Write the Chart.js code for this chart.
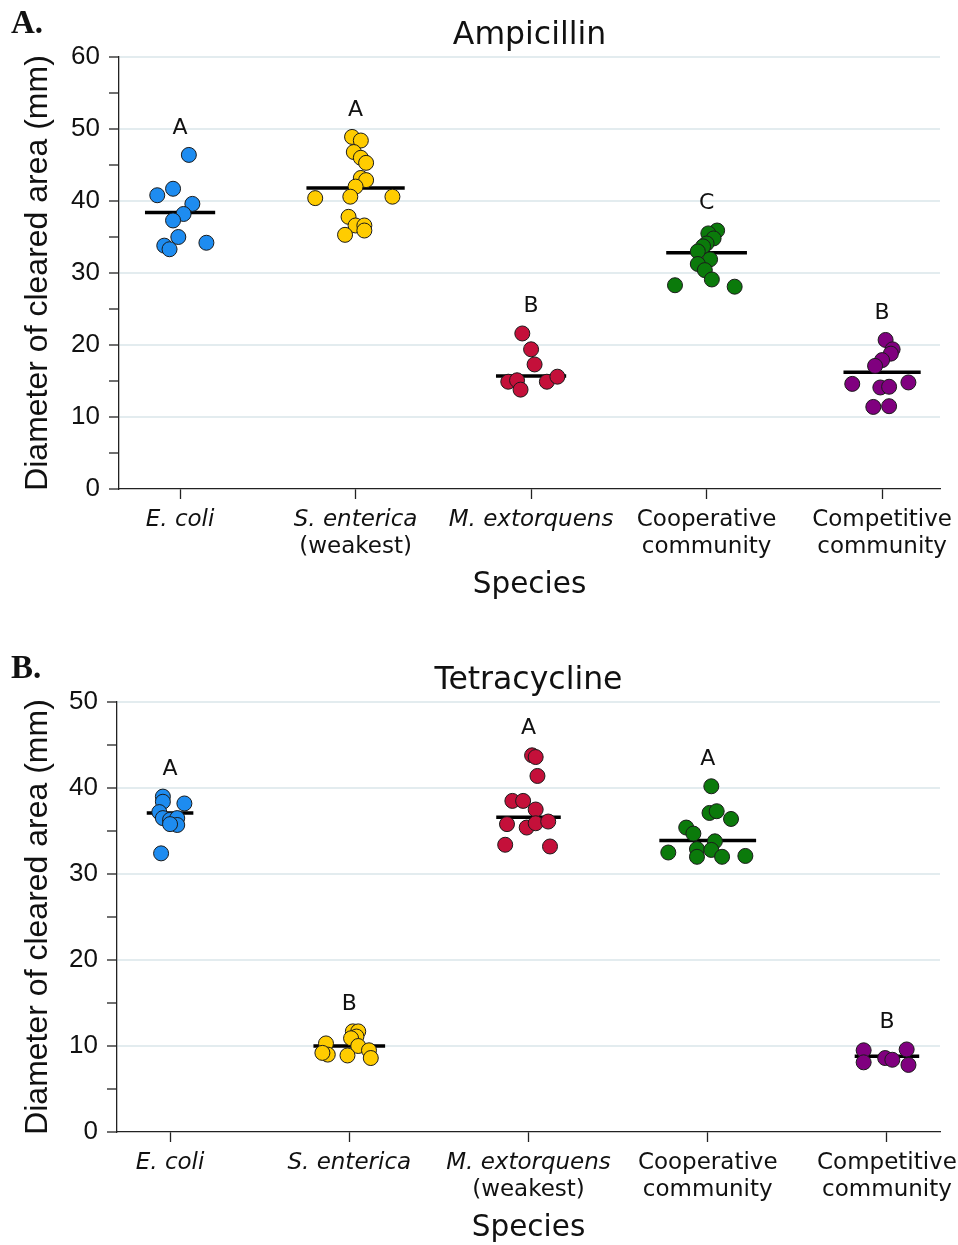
<!DOCTYPE html>
<html lang="en">
<head>
  <meta charset="UTF-8" />
  <title>Cleared area by species</title>
  <script src="https://cdn.jsdelivr.net/npm/chart.js"></script>
  <style>
    * { margin: 0; padding: 0; box-sizing: border-box; }
    body { background: #ffffff; width: 958px; }
    .panel { position: relative; width: 958px; }
    #ampPanel { height: 625px; }
    #tetPanel { height: 620px; }
  </style>
</head>
<body>
  <div class="panel" id="ampPanel"><canvas id="ampChart"></canvas></div>
  <div class="panel" id="tetPanel"><canvas id="tetChart"></canvas></div>

  <script>
    // species order on the x axis
    const ampLabels = ['E. coli', 'S. enterica\n(weakest)', 'M. extorquens', 'Cooperative\ncommunity', 'Competitive\ncommunity'];
    const tetLabels = ['E. coli', 'S. enterica', 'M. extorquens\n(weakest)', 'Cooperative\ncommunity', 'Competitive\ncommunity'];
    const italicFirstLine = [true, true, true, false, false];
    const groupColors = ['#1e8cf0', '#ffcc00', '#c4103a', '#0b7a0b', '#80007f'];

    // Ampicillin: cleared diameters (mm) per replicate
    const ampValues = [
      [46.4, 40.8, 41.7, 39.6, 38.2, 37.3, 35.0, 33.8, 33.3, 34.2],
      [48.9, 48.4, 46.8, 46.0, 45.3, 43.2, 42.9, 42.0, 40.6, 40.4, 40.6, 37.8, 36.6, 36.6, 35.9, 35.3],
      [21.6, 19.4, 17.3, 14.9, 15.1, 13.8, 14.9, 15.6],
      [35.9, 35.5, 34.8, 34.1, 33.7, 33.0, 31.9, 31.25, 30.4, 29.1, 28.3, 28.1],
      [20.7, 19.4, 18.8, 17.9, 17.1, 14.6, 14.1, 14.2, 14.8, 11.4, 11.5]
    ];
    // horizontal spread of the dots, in category widths
    const ampJitter = [
      [0.05, -0.13, -0.04, 0.07, 0.02, -0.04, -0.01, -0.09, -0.06, 0.15],
      [-0.02, 0.03, -0.01, 0.03, 0.06, 0.03, 0.06, 0, -0.03, -0.23, 0.21, -0.04, 0, 0.05, 0.05, -0.06],
      [-0.05, 0, 0.02, -0.13, -0.08, -0.06, 0.09, 0.15],
      [0.06, 0.01, 0.04, 0, -0.02, -0.05, 0.02, -0.05, -0.01, 0.03, -0.18, 0.16],
      [0.02, 0.06, 0.05, 0, -0.04, -0.17, -0.01, 0.04, 0.15, -0.05, 0.04]
    ];
    const ampMeans = [38.4, 41.8, 15.7, 32.8, 16.2];
    const ampLetters = ['A', 'A', 'B', 'C', 'B'];

    // Tetracycline
    const tetValues = [
      [39.0, 38.4, 38.2, 37.2, 36.5, 36.3, 36.5, 35.7, 35.8, 32.4],
      [11.7, 11.7, 11.1, 10.9, 10.3, 10.0, 9.0, 8.9, 9.5, 8.6, 9.2],
      [43.8, 43.6, 41.4, 38.5, 38.5, 37.5, 35.8, 35.4, 35.9, 36.1, 33.4, 33.2],
      [40.2, 37.1, 37.3, 36.4, 35.4, 34.7, 33.8, 32.5, 32.9, 32.8, 32.0, 32.0, 32.1],
      [9.5, 8.1, 8.6, 8.4, 9.6, 7.8]
    ];
    const tetJitter = [
      [-0.04, -0.04, 0.08, -0.06, -0.04, 0, 0.04, 0.04, 0, -0.05],
      [0.02, 0.05, 0.04, 0.01, -0.13, 0.05, -0.12, -0.01, 0.11, 0.12, -0.15],
      [0.02, 0.04, 0.05, -0.09, -0.03, 0.04, -0.12, -0.01, 0.04, 0.11, -0.13, 0.12],
      [0.02, 0.01, 0.05, 0.13, -0.12, -0.08, 0.04, -0.22, -0.06, 0.02, -0.06, 0.08, 0.21],
      [-0.13, -0.13, -0.01, 0.03, 0.11, 0.12]
    ];
    const tetMeans = [37.1, 10.0, 36.6, 33.9, 8.8];
    const tetLetters = ['A', 'B', 'A', 'A', 'B'];

    const ink = '#111111';
    const labelFont = '"DejaVu Sans", Verdana, sans-serif';

    // titles, category names, group letters and the "Species" caption
    const panelText = {
      id: 'panelText',
      afterDraw(chart, args, o) {
        const { ctx, chartArea, scales: { x, y } } = chart;
        const midX = (chartArea.left + chartArea.right) / 2;
        ctx.save();
        ctx.fillStyle = ink;
        ctx.textBaseline = 'middle';

        ctx.textAlign = 'left';
        ctx.font = 'bold 33px "Liberation Serif", serif';
        ctx.fillText(o.tag, 11, chartArea.top - 33);

        ctx.textAlign = 'center';
        ctx.font = '31.5px ' + labelFont;
        ctx.fillText(o.title, midX, chartArea.top - 21);

        o.labels.forEach((lab, i) => {
          const px = x.getPixelForValue(i + 1);
          lab.split('\n').forEach((line, k) => {
            ctx.font = (k === 0 && italicFirstLine[i] ? 'italic ' : '') + '23px ' + labelFont;
            ctx.fillText(line, px, chartArea.bottom + 31 + k * 27);
          });
          const topDot = y.getPixelForValue(Math.max(...o.values[i]));
          ctx.font = '22px ' + labelFont;
          ctx.fillText(o.letters[i], px, topDot - 27);
        });

        ctx.font = '29.5px ' + labelFont;
        ctx.fillText('Species', midX, chartArea.bottom + 96);
        ctx.restore();
      }
    };

    function buildDatasets(values, jitter, means) {
      const dots = [];
      const bars = [];
      values.forEach((vals, i) => {
        dots.push({
          data: vals.map((v, k) => ({ x: i + 1 + jitter[i][k], y: v })),
          backgroundColor: groupColors[i],
          borderColor: '#1b1b1b',
          borderWidth: 1,
          pointRadius: 7.5,
          order: 0
        });
        const half = Math.max(...jitter[i].map(Math.abs)) + 0.05;
        bars.push({
          data: [{ x: i + 1 - half, y: means[i] }, { x: i + 1 + half, y: means[i] }],
          showLine: true,
          borderColor: '#000000',
          borderWidth: 3.5,
          pointRadius: 0,
          order: 1
        });
      });
      return dots.concat(bars);
    }

    function makePanel(id, cfg) {
      return new Chart(document.getElementById(id), {
        type: 'scatter',
        data: { datasets: buildDatasets(cfg.values, cfg.jitter, cfg.means) },
        options: {
          responsive: true,
          maintainAspectRatio: false,
          animation: false,
          events: [],
          layout: { padding: { top: cfg.top, right: 18, left: 0, bottom: 0 } },
          plugins: {
            legend: { display: false },
            tooltip: { enabled: false },
            panelText: cfg
          },
          scales: {
            x: {
              type: 'linear',
              min: cfg.xMin,
              max: cfg.xMax,
              afterBuildTicks: s => { s.ticks = [1, 2, 3, 4, 5].map(v => ({ value: v })); },
              ticks: { display: false },
              grid: { drawOnChartArea: false, tickLength: 10, tickColor: '#222', tickWidth: 1.3 },
              border: { color: '#222', width: 1.3 },
              afterFit: s => { s.height = cfg.xHeight; }
            },
            y: {
              min: 0,
              max: cfg.yMax,
              ticks: {
                stepSize: 5,
                autoSkip: false,
                color: ink,
                padding: 9,
                font: { family: 'Liberation Sans', size: 26 },
                callback: v => (v % 10 === 0 ? v : '')
              },
              grid: {
                color: c => (c.tick && c.tick.value % 10 === 0 && c.tick.value > 0) ? '#e3ecef' : 'rgba(0,0,0,0)',
                lineWidth: 2,
                tickColor: '#222',
                tickWidth: 1.3,
                tickLength: 10
              },
              border: { color: '#222', width: 1.3 },
              title: {
                display: true,
                text: 'Diameter of cleared area (mm)',
                color: ink,
                font: { family: 'Liberation Sans', size: 32 },
                padding: { top: 19, bottom: 0 }
              },
              afterFit: s => { s.width = cfg.yWidth; }
            }
          }
        },
        plugins: [panelText]
      });
    }

    makePanel('ampChart', {
      tag: 'A.', title: 'Ampicillin', labels: ampLabels, letters: ampLetters,
      values: ampValues, jitter: ampJitter, means: ampMeans,
      yMax: 60, xMin: 0.652, xMax: 5.33, top: 57, yWidth: 119, xHeight: 136
    });

    makePanel('tetChart', {
      tag: 'B.', title: 'Tetracycline', labels: tetLabels, letters: tetLetters,
      values: tetValues, jitter: tetJitter, means: tetMeans,
      yMax: 50, xMin: 0.704, xMax: 5.296, top: 77, yWidth: 117, xHeight: 113
    });
  </script>
</body>
</html>
